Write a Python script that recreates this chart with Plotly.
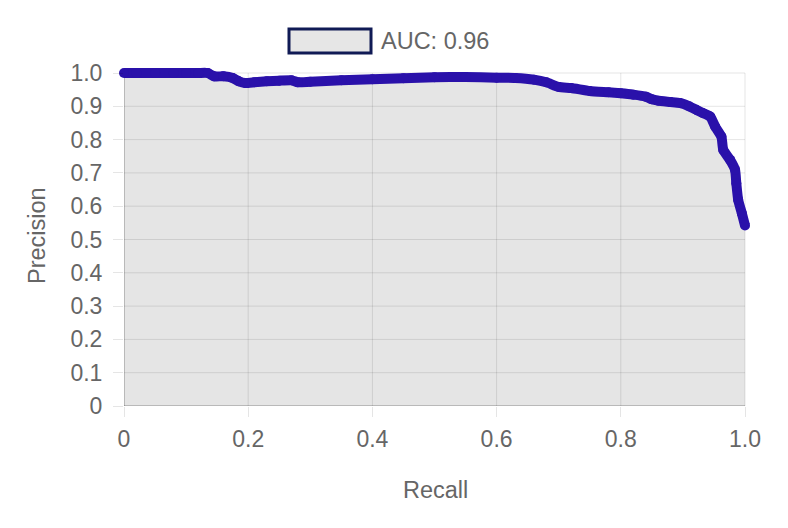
import plotly.graph_objects as go

recall = [0, 0.02, 0.05, 0.08, 0.1, 0.12, 0.135, 0.145, 0.16, 0.175, 0.185, 0.195,
          0.21, 0.23, 0.25, 0.27, 0.28, 0.3, 0.35, 0.4, 0.45, 0.5, 0.55, 0.6, 0.63,
          0.66, 0.68, 0.7, 0.72, 0.75, 0.78, 0.8, 0.82, 0.84, 0.85, 0.86, 0.88,
          0.895, 0.91, 0.922, 0.932, 0.944, 0.952, 0.962, 0.965, 0.976, 0.984,
          0.986, 0.989, 0.995, 1.0]
precision = [1.0, 1.0, 1.0, 1.0, 1.0, 1.0, 1.0, 0.99, 0.99, 0.985, 0.975, 0.97,
             0.972, 0.975, 0.977, 0.978, 0.972, 0.974, 0.978, 0.981, 0.984, 0.987,
             0.988, 0.986, 0.985, 0.98, 0.972, 0.958, 0.955, 0.946, 0.942, 0.939,
             0.935, 0.929, 0.921, 0.917, 0.913, 0.91, 0.9, 0.889, 0.88, 0.869, 0.839,
             0.809, 0.769, 0.739, 0.709, 0.669, 0.619, 0.578, 0.542]

x_ticks = [0, 0.2, 0.4, 0.6, 0.8, 1.0]
x_labels = ["0", "0.2", "0.4", "0.6", "0.8", "1.0"]
y_ticks = [0, 0.1, 0.2, 0.3, 0.4, 0.5, 0.6, 0.7, 0.8, 0.9, 1.0]
y_labels = ["0", "0.1", "0.2", "0.3", "0.4", "0.5", "0.6", "0.7", "0.8", "0.9", "1.0"]
legend_label = "AUC: 0.96"
x_title = "Recall"
y_title = "Precision"

FONT = "Liberation Sans, Arial, Helvetica, sans-serif"
GRAY = "#666666"
LINE = "#2a11aa"
GRID = "rgba(0,0,0,0.1)"
AXIS = "rgba(0,0,0,0.25)"

# small headroom so the thick line is not clipped at the top / right edges
X_MAX = 1 + 10 / 621
Y_MAX = 1 + 10 / 333

fig = go.Figure()
fig.add_trace(go.Scatter(
    x=recall, y=precision, mode="lines+markers",
    line=dict(color=LINE, width=10, shape="spline", smoothing=0.5),
    marker=dict(color=LINE, size=10),
    fill="tozeroy", fillcolor="rgba(0,0,0,0.1)",
    cliponaxis=False, showlegend=False, hoverinfo="skip",
))

axis_common = dict(
    showgrid=False,
    ticks="outside", ticklen=10, tickcolor=GRID, tickwidth=1,
    tickfont=dict(family=FONT, size=23, color=GRAY),
    zeroline=False, showline=False, fixedrange=True,
)

fig.update_xaxes(range=[0, X_MAX], tickvals=x_ticks, ticktext=x_labels,
                 ticklabelstandoff=2, **axis_common)
fig.update_yaxes(range=[0, Y_MAX], tickvals=y_ticks, ticktext=y_labels,
                 ticklabelstandoff=6, **axis_common)

# grid lines limited to the 0..1 data box
for v in x_ticks:
    fig.add_shape(type="line", xref="x", yref="y", x0=v, x1=v, y0=0, y1=1,
                  line=dict(color=AXIS if v == 0 else GRID, width=1.5 if v == 0 else 1),
                  layer="below")
for v in y_ticks:
    fig.add_shape(type="line", xref="x", yref="y", x0=0, x1=1, y0=v, y1=v,
                  line=dict(color=AXIS if v == 0 else GRID, width=1.5 if v == 0 else 1),
                  layer="below")

PW, PH = 631, 343  # plot area size in px


def px(xp):
    return (xp - 124) / PW


def py(yp):
    return (406 - yp) / PH


# legend box + label
fig.add_shape(type="rect", xref="paper", yref="paper",
              x0=px(289), x1=px(371), y0=py(53), y1=py(29),
              line=dict(color="#101a55", width=3), fillcolor="#e6e6e6")
fig.add_annotation(text=legend_label, xref="paper", yref="paper",
                   x=px(379), y=py(41), xanchor="left", yanchor="middle",
                   showarrow=False, font=dict(family=FONT, size=23.5, color=GRAY))

fig.add_annotation(text=x_title, xref="paper", yref="paper",
                   x=px(435), y=py(490), xanchor="center", yanchor="middle",
                   showarrow=False, font=dict(family=FONT, size=23.5, color=GRAY))
fig.add_annotation(text=y_title, xref="paper", yref="paper",
                   x=px(37), y=py(236), xanchor="center", yanchor="middle",
                   textangle=-90, showarrow=False,
                   font=dict(family=FONT, size=23.5, color=GRAY))

fig.update_layout(
    width=788, height=528,
    margin=dict(l=116, r=41, t=55, b=130),
    paper_bgcolor="white", plot_bgcolor="white",
    showlegend=False,
)

fig.write_html("out.html")
